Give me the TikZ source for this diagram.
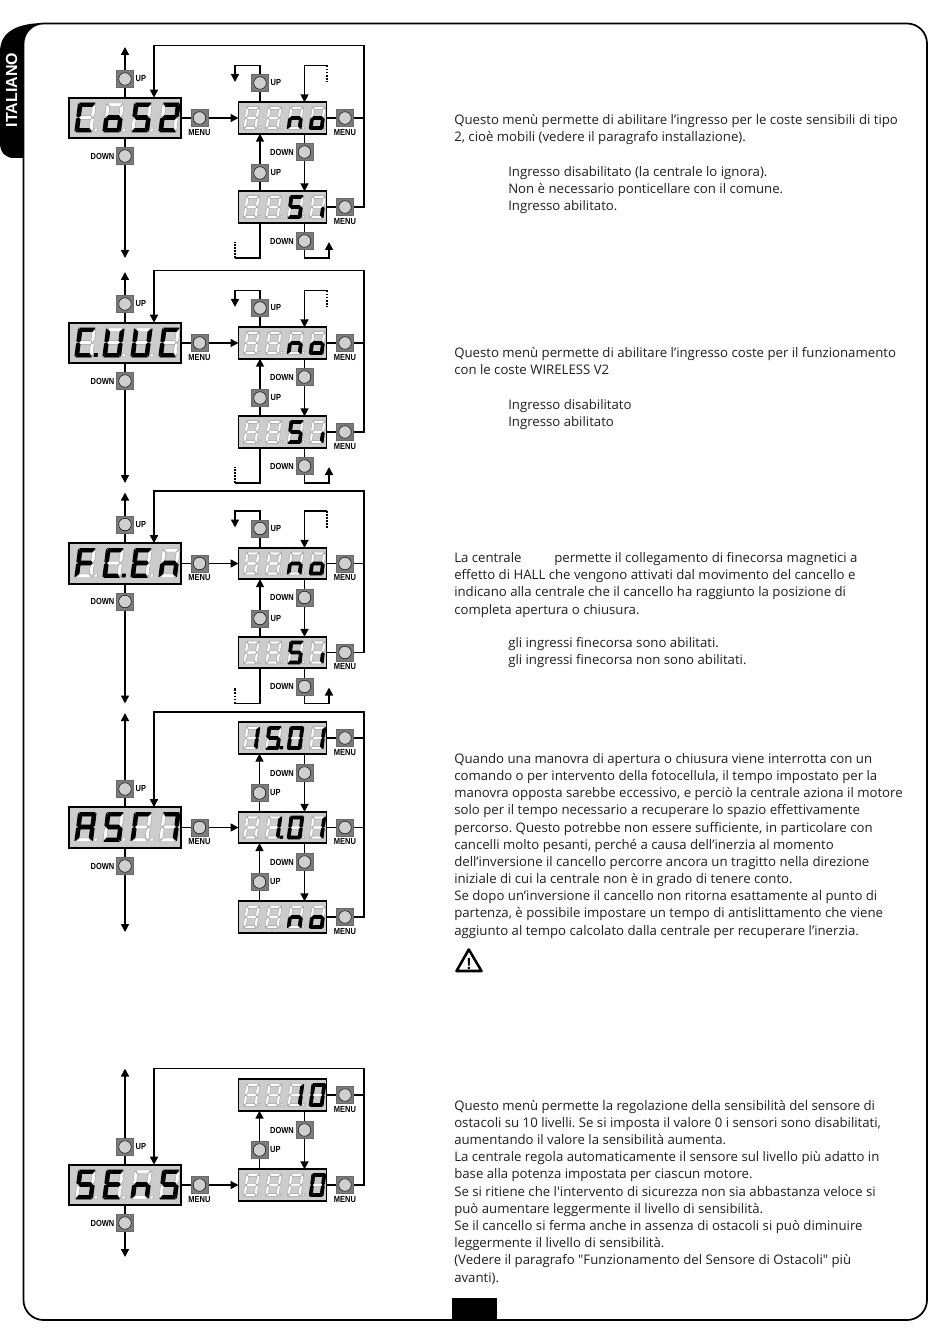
\documentclass[tikz,border=0pt]{standalone}
\usepackage{fontspec}
\newfontfamily\txtfont{Open Sans}
\newfontfamily\labfont{Liberation Sans}
\usetikzlibrary{arrows.meta,backgrounds,calc}
\definecolor{dispbg}{HTML}{CCCCCC}
\definecolor{btnbg}{HTML}{7C7C7C}
\definecolor{knobbg}{HTML}{CFCFCF}
\definecolor{segline}{HTML}{9C9C9C}
\tikzset{
  x=0.75pt,y=-0.75pt,
  conn/.style={line width=1.2pt,line join=miter,>={Triangle[length=6pt,width=6pt]}},
  stub/.style={line width=0.9pt,dash pattern=on 1.4pt off 0.9pt},
  maindisp/.style={draw=black,line width=1.4pt,fill=dispbg,minimum width=84.5pt,minimum height=30.5pt,inner sep=0pt,outer sep=0pt,rectangle},
  subdisp/.style={draw=black,line width=1.4pt,fill=dispbg,minimum width=66pt,minimum height=23.5pt,inner sep=0pt,outer sep=0pt,rectangle},
  btn/.style={fill=btnbg,draw=btnbg!85!black,line width=0.3pt,minimum size=12.6pt,inner sep=0pt,outer sep=0pt,rectangle},
  knob/.style={circle,fill=knobbg,draw=black,line width=0.35pt,minimum size=9.4pt,inner sep=0pt},
  btnlab/.style={font=\labfont\bfseries\fontsize{6.6}{7}\selectfont,inner sep=0pt,text=black},
  txt/.style={anchor=base west,inner sep=0pt,font=\txtfont\frenchspacing\fontsize{9.9}{12}\selectfont,text=black!88},
  segoff/.style={fill=white,draw=segline,line width=0.3pt},
  segon/.style={fill=black,draw=black,line width=0.7pt,line join=round},
}
% seven-segment geometry, local px around the digit centre
\def\sega{(-7.6,-14.5)--(7.6,-14.5)--(5,-11)--(-5,-11)--cycle}
\def\segd{(-7.6,14.5)--(7.6,14.5)--(5,11)--(-5,11)--cycle}
\def\segb{(8.8,-13.5)--(8.8,-1.5)--(7,-0.4)--(5.2,-2)--(5.2,-10.6)--cycle}
\def\segc{(8.8,13.5)--(8.8,1.5)--(7,0.4)--(5.2,2)--(5.2,10.6)--cycle}
\def\segf{(-8.8,-13.5)--(-8.8,-1.5)--(-7,-0.4)--(-5.2,-2)--(-5.2,-10.6)--cycle}
\def\sege{(-8.8,13.5)--(-8.8,1.5)--(-7,0.4)--(-5.2,2)--(-5.2,10.6)--cycle}
\def\segg{(-6.6,0)--(-5,-1.9)--(5,-1.9)--(6.6,0)--(5,1.9)--(-5,1.9)--cycle}
\def\segnone{(0,0)}
\newcommand\segdigit[5]{%
  \begin{scope}[shift={(#1,#2)},xslant=0.13,scale=#3]
    \foreach \sname in {a,b,c,d,e,f,g}{%
      \expandafter\let\expandafter\curseg\csname seg\sname\endcsname
      \path[segoff] \curseg;}
    \foreach \sname in {#4}{%
      \expandafter\let\expandafter\curseg\csname seg\sname\endcsname
      \path[segon] \curseg;}
    \ifnum#5=1 \path[segoff] (10.4,11) rectangle (13.4,14);\fi
    \ifnum#5=2 \path[segon] (10.4,11) rectangle (13.4,14);\fi
  \end{scope}}
\newcommand\maindig[8]{%
  \segdigit{85.5}{#1}{1}{#2}{#6}\segdigit{113.5}{#1}{1}{#3}{#7}%
  \segdigit{141.5}{#1}{1}{#4}{#8}\segdigit{169.5}{#1}{1}{#5}{0}}
\newcommand\subdig[8]{%
  \segdigit{251.5}{#1}{0.78}{#2}{#6}\segdigit{273.5}{#1}{0.78}{#3}{#7}%
  \segdigit{295.5}{#1}{0.78}{#4}{#8}\segdigit{317.5}{#1}{0.78}{#5}{0}}
% buttons
\newcommand\btnU[3]{\node[btn] (#1) at (#2,#3) {};\node[knob] (#1k) at (#1) {};
  \node[btnlab,anchor=west] (#1l) at ($(#1.east)+(2,0)$) {\scalebox{0.85}[1]{UP}};}
\newcommand\btnD[3]{\node[btn] (#1) at (#2,#3) {};\node[knob] (#1k) at (#1) {};
  \node[btnlab,anchor=east] (#1l) at ($(#1.west)+(-2,0)$) {\scalebox{0.85}[1]{DOWN}};}
\newcommand\btnM[3]{\node[btn] (#1) at (#2,#3) {};\node[knob] (#1k) at (#1) {};
  \node[btnlab,anchor=north] (#1l) at ($(#1.south)+(0,2.5)$) {\scalebox{0.85}[1]{MENU}};}
% left column common to all five menus: p, cy, top, bottom, upY, downY, returnY
\newcommand\leftpart[7]{%
  \node[maindisp] (#1-main) at (125,#2) {};
  \btnU{#1-bup}{125}{#5}
  \btnD{#1-bdn}{125}{#6}
  \btnM{#1-bmm}{199.5}{#2}
  \coordinate (#1-top) at (125,#3);
  \coordinate (#1-bot) at (125,#4);
  \coordinate (#1-rl) at (154,#7);
  \coordinate (#1-rr) at (364,#7);
  \begin{pgfonlayer}{background}
    \draw[conn,->] (#1-main.north) -- (#1-top);
    \draw[conn,->] (#1-main.south) -- (#1-bot);
  \end{pgfonlayer}}
% the two-choice menu used three times
\newcommand\choiceblock[2]{%
  \begin{scope}[shift={(0,#2)}]
  \leftpart{#1}{118}{47}{258}{79}{156}{45.5}
  \node[subdisp] (#1-s1) at (282.5,118) {};
  \node[subdisp] (#1-s2) at (282.5,207) {};
  \btnM{#1-bm1}{345}{118}
  \btnM{#1-bm2}{345}{207}
  \btnU{#1-bu1}{260}{83}
  \btnD{#1-bd1}{304.5}{152}
  \btnU{#1-bu2}{260}{173}
  \btnD{#1-bd2}{304.5}{241}
  \coordinate (#1-la) at (235,65.5);
  \coordinate (#1-lb) at (235,82);
  \coordinate (#1-ra) at (304.5,65.5);
  \coordinate (#1-rb) at (327,65.5);
  \coordinate (#1-rc) at (327,82);
  \coordinate (#1-ba) at (235,258);
  \coordinate (#1-bb) at (235,242);
  \coordinate (#1-ca) at (329,258);
  \coordinate (#1-cb) at (329,242);
  \begin{pgfonlayer}{background}
    \draw[conn,->] (#1-main.east) -- (#1-s1.west);
    \draw[conn,->] (#1-bm2.east) -| (#1-rr) -- (#1-rl) -- (#1-rl |- #1-main.north);
    \draw[conn] (#1-bm1.east) -- (#1-bm1.east -| #1-rr);
    \draw[conn] (#1-s1.east) -- (#1-bm1.west);
    \draw[conn] (#1-s2.east) -- (#1-bm2.west);
    \draw[conn,->] (#1-bu1 |- #1-s1.north) |- (#1-la) -- (#1-lb);
    \draw[conn,->] (#1-rb) -- (#1-ra) -- (#1-ra |- #1-s1.north);
    \draw[stub] (#1-rb) -- (#1-rc);
    \draw[conn,->] (#1-bd1 |- #1-s1.south) -- (#1-bd1 |- #1-s2.north);
    \draw[conn,->] (#1-bu2 |- #1-s2.north) -- (#1-bu2 |- #1-s1.south);
    \draw[conn] (#1-bu2 |- #1-s2.south) |- (#1-ba);
    \draw[stub] (#1-ba) -- (#1-bb);
    \draw[conn,->] (#1-bd2 |- #1-s2.south) |- (#1-ca) -- (#1-cb);
  \end{pgfonlayer}
  \end{scope}}
\newcommand\tl[4]{\node[txt] (#1) at (#2,#3) {#4};}
\begin{document}
\begin{tikzpicture}
\useasboundingbox (0,0) rectangle (950,1344);
\begin{pgfonlayer}{background}
  \fill[white] (0,0) rectangle (950,1344);
  \fill[black] (45,23) .. controls (20,23) and (0,30) .. (0,52) -- (0,143) .. controls (0,153) and (6,158) .. (14,158) -- (45,158) -- cycle;
  \draw[black,line width=1.3pt,fill=white,rounded corners=15pt] (23.5,23.5) rectangle (927,1320);
\end{pgfonlayer}
\node[rotate=90,text=white,font=\labfont\bfseries\fontsize{12}{14}\selectfont,inner sep=0pt] (tab) at (11.5,90) {ITALIANO};

% ---- menus 1-3
\choiceblock{a}{0}
\maindig{117.5}{a,f,e,d}{c,d,e,g}{a,f,g,c,d}{a,b,g,e,d}{1}{1}{1}
\subdig{118}{none}{none}{e,g,c}{c,d,e,g}{1}{1}{1}
\subdig{207}{none}{none}{a,f,g,c,d}{c}{1}{1}{1}

\choiceblock{b}{225}
\maindig{342.5}{a,f,e,d}{f,e,d,c,b}{f,e,d,c,b}{a,f,e,d}{2}{1}{1}
\subdig{343}{none}{none}{e,g,c}{c,d,e,g}{1}{1}{1}
\subdig{432}{none}{none}{a,f,g,c,d}{c}{1}{1}{1}

\choiceblock{c}{445.5}
\maindig{563}{a,f,g,e}{a,f,e,d}{a,f,g,e,d}{e,g,c}{1}{2}{1}
\subdig{563.5}{none}{none}{e,g,c}{c,d,e,g}{1}{1}{1}
\subdig{652.5}{none}{none}{a,f,g,c,d}{c}{1}{1}{1}

% ---- menu 4
\leftpart{d}{827.5}{713}{932}{789}{866}{712}
\node[subdisp] (d-s1) at (282.5,738) {};
\node[subdisp] (d-s2) at (282.5,827.5) {};
\node[subdisp] (d-s3) at (282.5,917) {};
\btnM{d-bm1}{345}{738}
\btnM{d-bm2}{345}{827.5}
\btnM{d-bm3}{345}{917}
\btnD{d-bd1}{304.5}{773}
\btnD{d-bd2}{304.5}{862}
\btnU{d-bu1}{259.5}{793}
\btnU{d-bu2}{259.5}{882}
\begin{pgfonlayer}{background}
  \draw[conn,->] (d-main.east) -- (d-s2.west);
  \draw[conn,->] (d-bm3.east) -| (d-rr) -- (d-rl) -- (d-rl |- d-main.north);
  \draw[conn] (d-bm1.east) -- (d-bm1.east -| d-rr);
  \draw[conn] (d-bm2.east) -- (d-bm2.east -| d-rr);
  \draw[conn] (d-s1.east) -- (d-bm1.west);
  \draw[conn] (d-s2.east) -- (d-bm2.west);
  \draw[conn] (d-s3.east) -- (d-bm3.west);
  \draw[conn,->] (d-bd1 |- d-s1.south) -- (d-bd1 |- d-s2.north);
  \draw[conn,->] (d-bd2 |- d-s2.south) -- (d-bd2 |- d-s3.north);
  \draw[conn,->] (d-bu1 |- d-s2.north) -- (d-bu1 |- d-s1.south);
  \draw[conn,->] (d-bu2 |- d-s3.north) -- (d-bu2 |- d-s2.south);
\end{pgfonlayer}
\maindig{827}{a,b,c,e,f,g}{a,f,g,c,d}{a,f,e}{a,b,c}{1}{1}{1}
\subdig{738}{b,c}{a,f,g,c,d}{a,b,c,d,e,f}{b,c}{1}{2}{1}
\subdig{827.5}{none}{b,c}{a,b,c,d,e,f}{b,c}{1}{2}{1}
\subdig{917}{none}{none}{e,g,c}{c,d,e,g}{1}{1}{1}

% ---- menu 5
\leftpart{e}{1185}{1068.5}{1257}{1147}{1223}{1068.5}
\node[subdisp] (e-s1) at (282.5,1095) {};
\node[subdisp] (e-s2) at (282.5,1185) {};
\btnM{e-bm1}{345}{1095}
\btnM{e-bm2}{345}{1185}
\btnD{e-bd1}{304.5}{1130}
\btnU{e-bu1}{259.5}{1150}
\begin{pgfonlayer}{background}
  \draw[conn,->] (e-main.east) -- (e-s2.west);
  \draw[conn,->] (e-bm2.east) -| (e-rr) -- (e-rl) -- (e-rl |- e-main.north);
  \draw[conn] (e-bm1.east) -- (e-bm1.east -| e-rr);
  \draw[conn] (e-s1.east) -- (e-bm1.west);
  \draw[conn] (e-s2.east) -- (e-bm2.west);
  \draw[conn,->] (e-bd1 |- e-s1.south) -- (e-bd1 |- e-s2.north);
  \draw[conn,->] (e-bu1 |- e-s2.north) -- (e-bu1 |- e-s1.south);
\end{pgfonlayer}
\maindig{1184.5}{a,f,g,c,d}{a,f,g,e,d}{e,g,c}{a,f,g,c,d}{1}{1}{1}
\subdig{1095}{none}{none}{b,c}{a,b,c,d,e,f}{1}{1}{1}
\subdig{1185}{none}{none}{none}{a,b,c,d,e,f}{1}{1}{1}

% ---- text
\tl{t11}{454}{124.5}{Questo menù permette di abilitare l’ingresso per le coste sensibili di tipo}
\tl{t12}{454}{142}{2, cioè mobili (vedere il paragrafo installazione).}
\tl{t13}{508}{176.5}{Ingresso disabilitato (la centrale lo ignora).}
\tl{t14}{508}{193.5}{Non è necessario ponticellare con il comune.}
\tl{t15}{508}{210.5}{Ingresso abilitato.}

\tl{t21}{454}{357}{Questo menù permette di abilitare l’ingresso coste per il funzionamento}
\tl{t22}{454}{374}{con le coste WIRELESS V2}
\tl{t23}{508}{409}{Ingresso disabilitato}
\tl{t24}{508}{426}{Ingresso abilitato}

\tl{t31}{454}{562}{La centrale}
\tl{t31b}{554}{562}{permette il collegamento di finecorsa magnetici a}
\tl{t32}{454}{579}{effetto di HALL che vengono attivati dal movimento del cancello e}
\tl{t33}{454}{596}{indicano alla centrale che il cancello ha raggiunto la posizione di}
\tl{t34}{454}{614}{completa apertura o chiusura.}
\tl{t35}{508}{647.5}{gli ingressi finecorsa sono abilitati.}
\tl{t36}{508}{664.5}{gli ingressi finecorsa non sono abilitati.}

\tl{t41}{454}{763}{Quando una manovra di apertura o chiusura viene interrotta con un}
\tl{t42}{454}{780}{comando o per intervento della fotocellula, il tempo impostato per la}
\tl{t43}{454}{797.3}{manovra opposta sarebbe eccessivo, e perciò la centrale aziona il motore}
\tl{t44}{454}{814.5}{solo per il tempo necessario a recuperare lo spazio effettivamente}
\tl{t45}{454}{832}{percorso. Questo potrebbe non essere sufficiente, in particolare con}
\tl{t46}{454}{849}{cancelli molto pesanti, perché a causa dell’inerzia al momento}
\tl{t47}{454}{866}{dell’inversione il cancello percorre ancora un tragitto nella direzione}
\tl{t48}{454}{883.5}{iniziale di cui la centrale non è in grado di tenere conto.}
\tl{t49}{454}{900.5}{Se dopo un’inversione il cancello non ritorna esattamente al punto di}
\tl{t410}{454}{917.5}{partenza, è possibile impostare un tempo di antislittamento che viene}
\tl{t411}{454}{935}{aggiunto al tempo calcolato dalla centrale per recuperare l’inerzia.}

\draw[black,line width=1.9pt,line join=round] (468.8,949.5) -- (481.5,971) -- (456.5,971) -- cycle;
\node[inner sep=0pt,font=\labfont\bfseries\fontsize{12}{12}\selectfont] (warn) at (469,963.5) {!};

\tl{t51}{454}{1110}{Questo menù permette la regolazione della sensibilità del sensore di}
\tl{t52}{454}{1127}{ostacoli su 10 livelli. Se si imposta il valore 0 i sensori sono disabilitati,}
\tl{t53}{454}{1144.3}{aumentando il valore la sensibilità aumenta.}
\tl{t54}{454}{1161.5}{La centrale regola automaticamente il sensore sul livello più adatto in}
\tl{t55}{454}{1178.7}{base alla potenza impostata per ciascun motore.}
\tl{t56}{454}{1196}{Se si ritiene che l'intervento di sicurezza non sia abbastanza veloce si}
\tl{t57}{454}{1213}{può aumentare leggermente il livello di sensibilità.}
\tl{t58}{454}{1230.3}{Se il cancello si ferma anche in assenza di ostacoli si può diminuire}
\tl{t59}{454}{1247.5}{leggermente il livello di sensibilità.}
\tl{t510}{454}{1264.7}{(Vedere il paragrafo "Funzionamento del Sensore di Ostacoli" più}
\tl{t511}{454}{1282}{avanti).}

\fill[black] (452,1298) rectangle (497,1320);
\end{tikzpicture}
\end{document}
